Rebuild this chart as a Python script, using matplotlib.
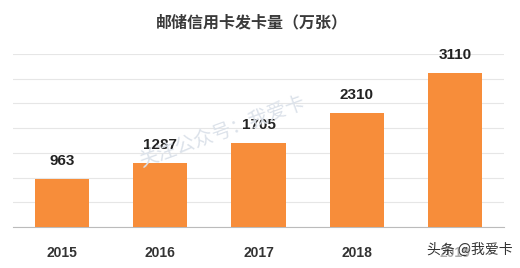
import matplotlib
matplotlib.use("Agg")
import matplotlib.pyplot as plt

plt.rcParams['font.family'] = ['Noto Sans CJK SC', 'DejaVu Sans']

years = ["2015", "2016", "2017", "2018", "2019"]
values = [963, 1287, 1705, 2310, 3110]
title = "邮储信用卡发卡量（万张）"

fig = plt.figure(figsize=(5.2, 2.68), dpi=100)
ax = fig.add_axes([13/520, 1 - 227/268, 491/520, 173/268])

x = list(range(len(years)))
ax.bar(x, values, width=0.55, color="#F78D3A", zorder=3)
for xi, v in zip(x, values):
    ax.annotate(str(v), (xi, v), xytext=(0, 8), textcoords="offset points",
                ha="center", va="bottom", fontsize=11, fontweight="bold",
                family="Liberation Sans", color="#222222", zorder=4)

ax.set_xlim(-0.5, len(years) - 0.5)
ax.set_ylim(0, 3500)
ax.set_yticks(range(0, 3501, 500))
ax.yaxis.grid(True, color="#E6E6E6", linewidth=0.8, zorder=0)
ax.tick_params(axis="y", left=False, labelleft=False)
ax.tick_params(axis="x", length=0, pad=14)
ax.set_xticks(x)
ax.set_xticklabels(years, fontsize=10, fontweight="bold", color="#333333",
                   family="Liberation Sans")
for s in ["top", "right", "left"]:
    ax.spines[s].set_visible(False)
ax.spines["bottom"].set_color("#BBBBBB")
ax.spines["bottom"].set_linewidth(0.8)

fig.text(252/520, 1 - 22/268, title, ha="center", va="center",
         fontsize=11.5, fontweight="bold", color="#3A3A3A")

# watermarks
fig.text(222/520, 1 - 132/268, "关注公众号：我爱卡", ha="center", va="center",
         fontsize=14, color="#DCE2EA", rotation=20, zorder=1)
fig.text(470/520, 1 - 250/268, "头条 @我爱卡", ha="center", va="center",
         fontsize=10, color="#333333", zorder=10,
         bbox=dict(facecolor="white", alpha=0.6, edgecolor="none", pad=1))

fig.savefig("out.png", dpi=100)
